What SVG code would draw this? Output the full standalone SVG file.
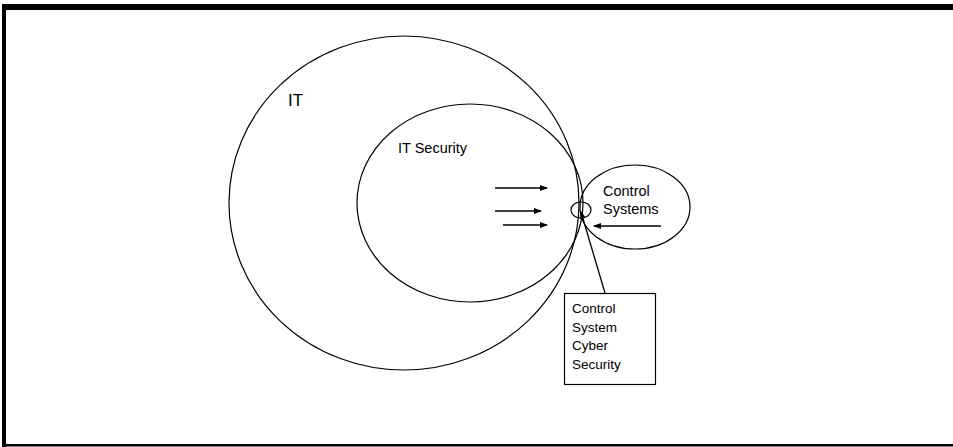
<svg xmlns="http://www.w3.org/2000/svg" width="953" height="447" viewBox="0 0 953 447">
<style>
.shape{fill:none;stroke:#000;stroke-width:1.2}
.lbl{font-family:"Liberation Sans",Arial,sans-serif;fill:#000}
.conn{stroke:#000;stroke-width:1.3;fill:none;marker-end:url(#ah)}
</style>
<defs>
<marker id="ah" markerWidth="8" markerHeight="6" refX="7" refY="3" orient="auto" markerUnits="userSpaceOnUse">
<path d="M0,0 L8,3 L0,6 Z" fill="#000"/>
</marker>
</defs>
<rect width="953" height="447" fill="#fff"/>
<g id="frame">
<rect x="2" y="4" width="951" height="6" fill="#000"/>
<rect x="2" y="4" width="4" height="443" fill="#000"/>
<rect x="2" y="444" width="951" height="2.5" fill="#000"/>
</g>
<g id="it">
<ellipse class="shape" cx="404" cy="203" rx="175" ry="167"/>
<text class="lbl" x="288" y="106" font-size="17">IT</text>
</g>
<g id="it-security">
<ellipse class="shape" cx="470" cy="203" rx="113" ry="99"/>
<text class="lbl" x="398" y="153" font-size="14.5">IT Security</text>
</g>
<g id="control-systems">
<ellipse class="shape" cx="635" cy="207" rx="55" ry="42"/>
<text class="lbl" x="603" y="196" font-size="14.5">Control</text>
<text class="lbl" x="603" y="214" font-size="14.5">Systems</text>
</g>
<g id="cscs-point">
<ellipse class="shape" cx="581" cy="210" rx="10" ry="8"/>
</g>
<g id="cscs-box">
<rect class="shape" x="564.5" y="293.5" width="91" height="91"/>
<text class="lbl" x="572" y="313" font-size="13.5">Control</text>
<text class="lbl" x="572" y="331.5" font-size="13.5">System</text>
<text class="lbl" x="572" y="350" font-size="13.5">Cyber</text>
<text class="lbl" x="572" y="368.5" font-size="13.5">Security</text>
</g>
<g id="connectors">
<line class="conn" x1="495" y1="188" x2="547" y2="188"/>
<line class="conn" x1="495" y1="211" x2="541" y2="211"/>
<line class="conn" x1="503" y1="225" x2="547" y2="225"/>
<line class="conn" x1="661" y1="226" x2="594" y2="226"/>
<line class="conn" x1="605" y1="293" x2="581" y2="212"/>
</g>
</svg>
